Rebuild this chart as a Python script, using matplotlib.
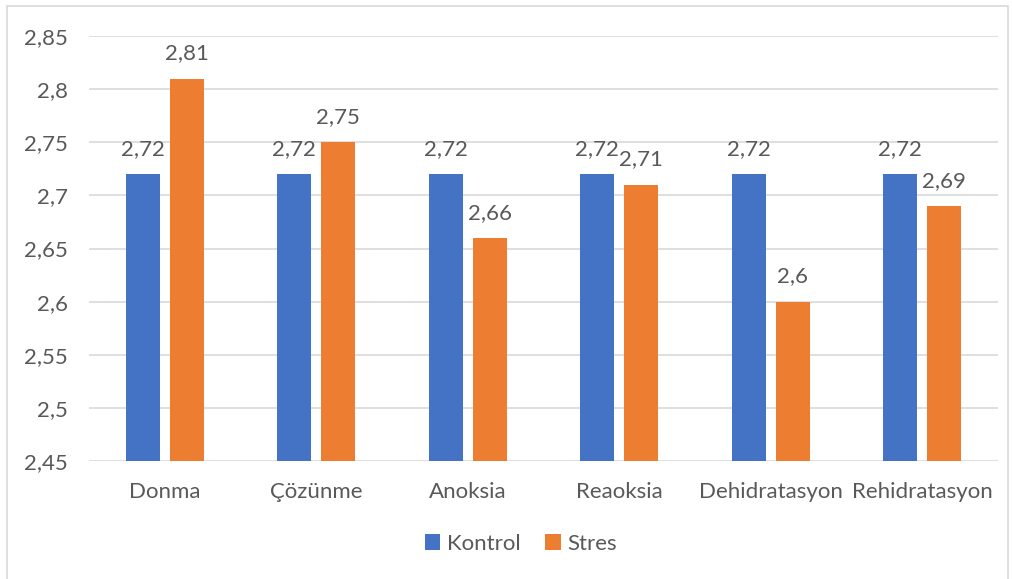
import numpy as np
import matplotlib
matplotlib.use("Agg")
import matplotlib.pyplot as plt
from matplotlib.patches import Rectangle

# Mean values per treatment (control vs. stress)
categories = ["Donma", "Çözünme", "Anoksia", "Reaoksia", "Dehidratasyon", "Rehidratasyon"]
kontrol = [2.72, 2.72, 2.72, 2.72, 2.72, 2.72]
stres = [2.81, 2.75, 2.66, 2.71, 2.60, 2.69]
y_ticks = [2.45, 2.5, 2.55, 2.6, 2.65, 2.7, 2.75, 2.8, 2.85]

BLUE = "#4472C4"
ORANGE = "#ED7D31"
TEXT = "#595959"
GRID = "#D9D9D9"
FS = 16

plt.rcParams["font.family"] = ["Lato", "DejaVu Sans"]


def fmt(v):
    # Turkish decimal comma, no trailing zeros
    s = f"{v:.2f}".rstrip("0").rstrip(".")
    return s.replace(".", ",")


fig = plt.figure(figsize=(10.13, 5.79), dpi=100)
fig.patches.append(Rectangle((7 / 1013, -0.01), 1001 / 1013, 1 - 6 / 579 + 0.01,
                             transform=fig.transFigure, fill=False,
                             edgecolor=GRID, linewidth=1.2))
ax = fig.add_axes([89 / 1013, 1 - 461 / 579, 909 / 1013, 425 / 579])

x = np.arange(len(categories))
w = 0.224
off = 0.145
b1 = ax.bar(x - off, kontrol, w, color=BLUE, label="Kontrol", zorder=3)
b2 = ax.bar(x + off, stres, w, color=ORANGE, label="Stres", zorder=3)

for bars, vals in ((b1, kontrol), (b2, stres)):
    for r, v in zip(bars, vals):
        ax.annotate(fmt(v), (r.get_x() + r.get_width() / 2, v),
                    xytext=(0, 11), textcoords="offset points",
                    ha="center", va="bottom", fontsize=FS, color=TEXT)

ax.set_ylim(2.45, 2.85)
ax.set_xlim(-0.5, len(categories) - 0.5)
ax.set_yticks(y_ticks)
ax.set_yticklabels([fmt(t) for t in y_ticks])
ax.set_xticks(x)
ax.set_xticklabels(categories)
ax.tick_params(axis="both", length=0, labelsize=FS, colors=TEXT)
ax.tick_params(axis="x", pad=15)
ax.tick_params(axis="y", pad=15)
for s in ax.spines.values():
    s.set_visible(False)
ax.yaxis.grid(True, color=GRID, linewidth=1.2, zorder=0)
ax.set_axisbelow(True)

ax.legend(loc="center", bbox_to_anchor=(0.475, -0.195), ncol=2, frameon=False,
          fontsize=FS, labelcolor=TEXT, handlelength=0.7, handleheight=0.7,
          handletextpad=0.3, columnspacing=1.1)

fig.savefig("out.png", dpi=100)
